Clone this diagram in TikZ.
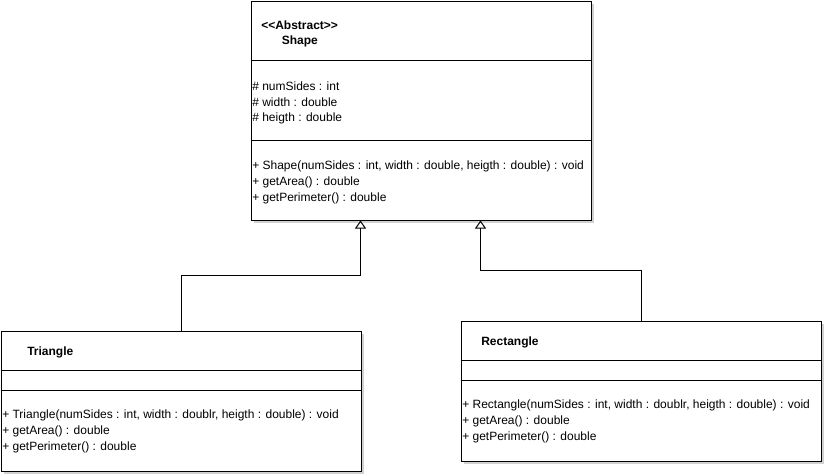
\documentclass[tikz,border=0pt]{standalone}
\usepackage{fontspec}
\setmainfont{Liberation Sans}
\usetikzlibrary{arrows.meta,shadows}
\tikzset{>=stealth}
\tikzset{
  classbox/.style={draw, line width=0.75pt, fill=white, inner sep=0pt, anchor=north west,
    drop shadow={shadow xshift=2.25pt, shadow yshift=-2.25pt, fill=black!18, opacity=1}},
  member/.style={anchor=west, inner sep=0pt, font=\fontsize{9}{11}\selectfont},
  title/.style={member, font=\fontsize{9}{11}\selectfont\bfseries},
  extends/.style={line width=0.75pt, -{Triangle[length=6pt, width=8.25pt, fill=white]}}
}

\begin{document}
\begin{tikzpicture}[x=0.75pt, y=-0.75pt]
\useasboundingbox (0,0) rectangle (825,475);
% the abstract class
\node[classbox, minimum width=255pt, minimum height=164.25pt] (shape) at (250.5,0.5) {};
\draw[line width=0.75pt] (shape.west |- 0,60.5) -- (shape.east |- 0,60.5);
\draw[line width=0.75pt] (shape.west |- 0,140.5) -- (shape.east |- 0,140.5);
\node[title] (shapest) at (261,25.5) {<{}<Abstract>{}>};
\node[title] (shapenm) at (281.5,41) {Shape};
\node[member] (sa1) at (252,86) {\# numSides : int};
\node[member] (sa2) at (252,102) {\# width : double};
\node[member] (sa3) at (252,118) {\# heigth : double};
\node[member] (sm1) at (252,166) {+ Shape(numSides : int, width : double, heigth : double) : void};
\node[member] (sm2) at (252,182) {+ getArea() : double};
\node[member] (sm3) at (252,198) {+ getPerimeter() : double};

% subclasses
\node[classbox, minimum width=270pt, minimum height=105pt] (tri) at (0.5,330.5) {};
\draw[line width=0.75pt] (tri.west |- 0,370.5) -- (tri.east |- 0,370.5);
\draw[line width=0.75pt] (tri.west |- 0,390.5) -- (tri.east |- 0,390.5);
\node[title] (trinm) at (27,352.5) {Triangle};
\node[member] (tm1) at (2,415.5) {+ Triangle(numSides : int, width : doublr, heigth : double) : void};
\node[member] (tm2) at (2,431.5) {+ getArea() : double};
\node[member] (tm3) at (2,447.5) {+ getPerimeter() : double};

\node[classbox, minimum width=270pt, minimum height=105pt] (rect) at (460.5,320.5) {};
\draw[line width=0.75pt] (rect.west |- 0,360.5) -- (rect.east |- 0,360.5);
\draw[line width=0.75pt] (rect.west |- 0,380.5) -- (rect.east |- 0,380.5);
\node[title] (rectnm) at (481,342.5) {Rectangle};
\node[member] (rm1) at (462,405.5) {+ Rectangle(numSides : int, width : doublr, heigth : double) : void};
\node[member] (rm2) at (462,421.5) {+ getArea() : double};
\node[member] (rm3) at (462,437.5) {+ getPerimeter() : double};

% generalisation
\coordinate (tribend) at (360.5,275.5);
\coordinate (rectbend) at (480.5,270.5);
\draw[extends] (tri.north) |- (tribend) -- (tribend |- shape.south);
\draw[extends] (rect.north) |- (rectbend) -- (rectbend |- shape.south);
\end{tikzpicture}
\end{document}
